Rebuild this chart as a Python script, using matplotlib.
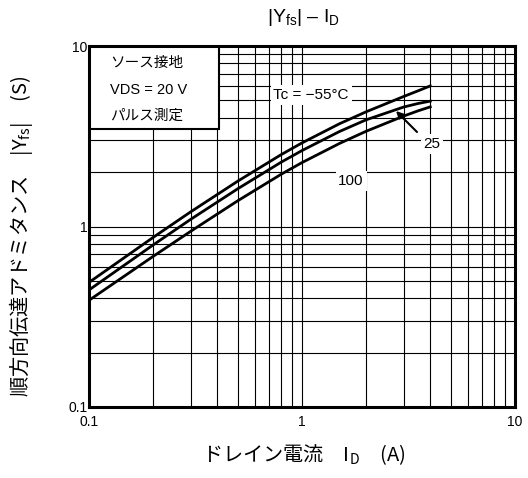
import numpy as np
import matplotlib.pyplot as plt
import matplotlib.ticker as mticker
from matplotlib.patches import Rectangle

plt.rcParams['font.family'] = ['Liberation Sans', 'Noto Sans CJK JP', 'DejaVu Sans']
plt.rcParams['mathtext.fontset'] = 'custom'
plt.rcParams['mathtext.rm'] = 'Liberation Sans'

# drain current ID (A)
I_D = [0.1, 0.2, 0.3, 0.5, 0.8, 1.0, 1.5, 2.0, 3.0, 3.5, 4.0]
# |Yfs| (S) per case temperature
Yfs_m55 = [0.49, 0.87, 1.205, 1.785, 2.505, 2.905, 3.71, 4.32, 5.25, 5.64, 6.01]
Yfs_25 = [0.445, 0.79, 1.095, 1.62, 2.275, 2.635, 3.36, 3.90, 4.59, 4.80, 4.95]
Yfs_100 = [0.39, 0.683, 0.94, 1.39, 1.95, 2.26, 2.885, 3.37, 4.09, 4.37, 4.60]

tick_vals = [0.1, 1, 10]
tick_text = ['0.1', '1', '10']

fig = plt.figure(figsize=(5.28, 4.78), dpi=100)
ax = fig.add_axes([89/528, 71/478, 426/528, 361/478])
ax.set_xscale('log')
ax.set_yscale('log')
ax.set_xlim(0.1, 10)
ax.set_ylim(0.1, 10)

for ys in (Yfs_m55, Yfs_25, Yfs_100):
    ax.plot(I_D, ys, color='black', lw=2.0, zorder=4)

for axis in (ax.xaxis, ax.yaxis):
    axis.set_major_locator(mticker.FixedLocator(tick_vals))
    axis.set_major_formatter(mticker.FixedFormatter(tick_text))
    axis.set_minor_locator(mticker.LogLocator(base=10, subs=range(2, 10)))
    axis.set_minor_formatter(mticker.NullFormatter())
ax.grid(which='both', color='black', lw=0.8, zorder=1)
ax.set_axisbelow(True)
ax.tick_params(which='both', length=0, labelsize=10)
ax.tick_params(axis='x', pad=6)
ax.tick_params(axis='y', pad=1)
for sp in ax.spines.values():
    sp.set_linewidth(2.2)
    sp.set_zorder(6)

# condition box
ax.add_patch(Rectangle((0, 0.77), 0.305, 0.23, transform=ax.transAxes,
                       facecolor='white', edgecolor='black', lw=1.5, zorder=5))
ax.text(0.05, 0.953, 'ソース接地', transform=ax.transAxes, fontsize=10.5,
        va='center', ha='left', family=['Noto Sans CJK JP'], zorder=6)
ax.text(0.05, 0.878, 'VDS = 20 V', transform=ax.transAxes, fontsize=10.5,
        va='center', ha='left', zorder=6)
ax.text(0.05, 0.806, 'パルス測定', transform=ax.transAxes, fontsize=10.5,
        va='center', ha='left', family=['Noto Sans CJK JP'], zorder=6)

wb = dict(facecolor='white', edgecolor='none', pad=2)
ax.text(0.1*10**((311-89)/213), 10**((226.5-95)/180.5), 'Tc = \u221255°C',
        fontsize=11, ha='center', va='center', bbox=wb, zorder=5)
ax.text(0.1*10**((432-89)/213), 10**((226.5-144)/180.5), '25',
        fontsize=11, ha='center', va='center', bbox=wb, zorder=5)
ax.text(0.1*10**((351-89)/213), 10**((226.5-181)/180.5), '100',
        fontsize=11, ha='center', va='center', bbox=wb, zorder=5)
ax.annotate('', xy=(0.1*10**((396-89)/213), 10**((226.5-111)/180.5)),
            xytext=(0.1*10**((417-89)/213), 10**((226.5-132)/180.5)),
            arrowprops=dict(arrowstyle='-|>', color='black', lw=1.5,
                            mutation_scale=10, shrinkA=0, shrinkB=0), zorder=6)

fig.text(303/528, 1 - 18/478, r'|Y$_\mathregular{fs}$| – I$_\mathregular{D}$',
         fontsize=14, ha='center', va='center')
fig.text(304/528, 1 - 455/478, 'ドレイン電流　I$_\\mathregular{D}$　(A)',
         fontsize=14.5, ha='center', va='center', family=['Noto Sans CJK JP'])
fig.text(21/528, 1 - 236/478, '順方向伝達アドミタンス　|Y$_\\mathregular{fs}$|　(S)',
         fontsize=14.5, ha='center', va='center', rotation=90,
         family=['Noto Sans CJK JP'])

fig.savefig('out.png', dpi=100)
